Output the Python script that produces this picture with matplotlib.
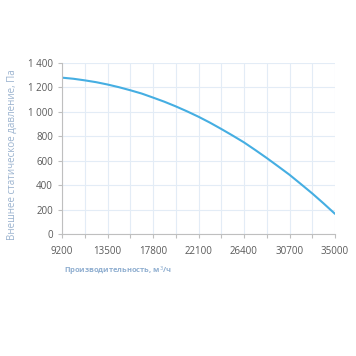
import matplotlib
matplotlib.use("Agg")
import matplotlib.pyplot as plt
from matplotlib.ticker import FuncFormatter

plt.rcParams['font.family'] = ['Open Sans', 'DejaVu Sans']

# данные кривой
flow = [9200, 10275, 11350, 12425, 13500, 14575, 15650, 16725, 17800, 18875, 19950, 21025,
        22100, 23175, 24250, 25325, 26400, 27475, 28550, 29625, 30700, 31775, 32850, 33925, 35000]
pressure = [1280, 1271, 1258, 1243, 1224, 1202, 1177, 1150, 1117, 1083, 1045, 1004,
            960, 912, 860, 806, 750, 687, 622, 554, 485, 409, 332, 250, 165]
x_ticks = [9200, 13500, 17800, 22100, 26400, 30700, 35000]
x_grid = list(range(9200, 35001, 2150))
y_ticks = [0, 200, 400, 600, 800, 1000, 1200, 1400]

fig = plt.figure(figsize=(3.56, 3.56), dpi=100)
ax = fig.add_axes([62 / 356, 1 - 234 / 356, (335 - 62) / 356, (234 - 63) / 356])

ax.plot(flow, pressure, color='#45aee2', lw=1.5, solid_capstyle='round', solid_joinstyle='round')

ax.set_xlim(9200, 35000)
ax.set_ylim(0, 1400)
ax.set_xticks(x_grid)
ax.set_xticklabels([f"{v}" if v in x_ticks else "" for v in x_grid])
ax.set_yticks(y_ticks)
ax.yaxis.set_major_formatter(FuncFormatter(lambda v, p: f"{int(v):,}".replace(",", " ")))

ax.grid(True, color='#e3ecf6', lw=0.8)
ax.set_axisbelow(True)
for s in ['top', 'right']:
    ax.spines[s].set_visible(False)
for s in ['left', 'bottom']:
    ax.spines[s].set_color('#bfbfbf')
    ax.spines[s].set_linewidth(0.8)
ax.tick_params(axis='both', colors='#bfbfbf', length=3, width=0.8, labelsize=7, labelcolor='#595959')
ax.tick_params(axis='x', pad=6)

fig.text(12 / 356, 1 - 155 / 356, "Внешнее статическое давление, Па", rotation=90,
         ha='center', va='center', fontsize=7, color='#9bb3cf')
fig.text(64 / 356, 1 - 271 / 356, "Производительность, м$^3$/ч", ha='left', va='center',
         fontsize=5.4, color='#8faed0', fontweight='bold')

fig.savefig('out.png', dpi=100, facecolor='white')
